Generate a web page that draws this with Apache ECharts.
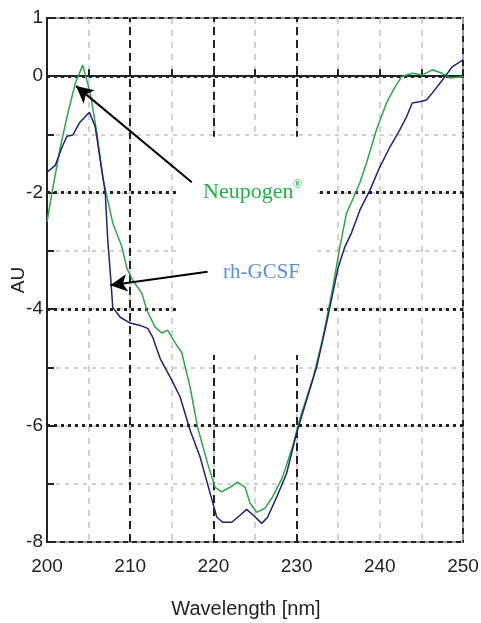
<!DOCTYPE html>
<html>
<head>
<meta charset="utf-8">
<script src="https://cdn.jsdelivr.net/npm/echarts@6/dist/echarts.min.js"></script>
<style>
  html, body { margin: 0; padding: 0; background: #fff; }
  #chart { width: 481px; height: 623px; }
</style>
</head>
<body>
<div id="chart"></div>
<script>
// Neupogen (green) trace
const neupogenX = [200, 200.6, 201.6, 202.4, 203.4, 204.3, 205.2, 206.0, 206.7, 207.1, 207.9, 209.0, 209.6, 210.3,
  211.4, 212.0, 213.0, 213.8, 214.5, 215.4, 216.2, 217.2, 218.1, 219.3, 220.2, 221.0, 222.0, 222.9, 223.8, 224.4,
  225.2, 226.2, 227.1, 228.3, 229.5, 230.4, 232.0, 233.1, 234.3, 235.2, 236.0, 236.7, 237.6, 238.4, 239.6, 240.8,
  241.8, 242.6, 243.9, 245.1, 246.3, 247.5, 248.4, 250];
const neupogenY = [-2.5, -2.0, -1.22, -0.70, -0.12, 0.19, -0.29, -0.98, -1.73, -2.0, -2.52, -2.93, -3.3, -3.5,
  -3.73, -4.02, -4.31, -4.41, -4.36, -4.58, -4.75, -5.34, -6.03, -6.65, -7.06, -7.14, -7.06, -6.97, -7.06, -7.33,
  -7.49, -7.42, -7.23, -6.89, -6.37, -5.88, -5.17, -4.53, -3.67, -2.93, -2.35, -2.13, -1.83, -1.49, -0.92, -0.46,
  -0.19, -0.01, 0.05, 0.02, 0.11, 0.05, -0.03, -0.01];

// rh-GCSF (navy) trace
const rhX = [200, 201.0, 201.8, 202.4, 203.1, 203.9, 205.1, 205.8, 206.4, 207.0, 207.3, 207.7, 207.9, 208.8, 210.0,
  211.2, 212.1, 212.7, 213.6, 215.0, 216.0, 217.2, 218.4, 219.6, 220.4, 221.1, 222.2, 223.2, 224.0, 224.8, 225.8,
  226.5, 227.6, 228.8, 230.0, 231.2, 232.4, 233.6, 235.0, 235.8, 236.6, 237.6, 238.8, 240.0, 241.2, 242.4, 243.2,
  243.9, 244.8, 245.6, 246.3, 247.5, 248.7, 250];
const rhY = [-1.65, -1.53, -1.22, -1.03, -1.01, -0.80, -0.62, -0.87, -1.44, -2.0, -2.81, -3.55, -3.97, -4.14, -4.24,
  -4.28, -4.33, -4.48, -4.85, -5.22, -5.51, -6.08, -6.54, -7.16, -7.57, -7.66, -7.66, -7.54, -7.44, -7.54, -7.68,
  -7.58, -7.23, -6.82, -6.13, -5.56, -5.0, -4.24, -3.28, -2.93, -2.69, -2.3, -1.96, -1.56, -1.22, -0.92, -0.70,
  -0.46, -0.44, -0.41, -0.29, -0.07, 0.16, 0.28];

// bold gridlines and labelled ticks
const majorX = [210, 220, 230];
const majorY = [0, -2, -4, -6];
const yLabels = [1, 0, -2, -4, -6, -8];

// annotation arrows: [from, to] in data coords
const arrowNeupogen = [[217.4, -1.82], [203.5, -0.17]];
const arrowRh = [[219.3, -3.36], [207.6, -3.59]];
// blank patch behind the labels (gridlines hidden there)
const labelPatch = [[215.5, -1.04], [232.5, -4.79]];

const pairs = (xs, ys) => xs.map((x, i) => [x, ys[i]]);

const chart = echarts.init(document.getElementById("chart"));
const labelFont = "'Liberation Sans', Arial, sans-serif";
const serif = "'Liberation Serif', 'Times New Roman', serif";

const option = {
  animation: false,
  grid: {
    left: 47,
    right: 18,
    top: 18,
    bottom: 81,
    containLabel: false,
    outerBoundsMode: "none",
    show: true,
    borderColor: "#222",
    borderWidth: 2,
  },
  xAxis: {
    type: "value",
    min: 200,
    max: 250,
    interval: 5,
    name: "Wavelength [nm]",
    nameLocation: "middle",
    nameGap: 57,
    nameTextStyle: { fontFamily: labelFont, fontSize: 20, color: "#222", padding: [0, 18, 0, 0] },
    axisLine: { lineStyle: { color: "#222", width: 2 } },
    axisTick: { inside: true, length: 7, lineStyle: { color: "#222", width: 2 } },
    axisLabel: {
      margin: 15,
      fontFamily: labelFont,
      fontSize: 19,
      color: "#222",
      formatter: (v) => (v % 10 === 0 ? String(v) : ""),
    },
    splitLine: { show: true, lineStyle: { color: "#c4c4c4", type: [6, 6], width: 1.5 } },
  },
  yAxis: {
    type: "value",
    min: -8,
    max: 1,
    interval: 1,
    name: "AU",
    nameLocation: "middle",
    nameGap: 19,
    nameMoveOverlap: false,
    nameTextStyle: { fontFamily: labelFont, fontSize: 19, color: "#222" },
    axisLine: { show: true, lineStyle: { color: "#222", width: 2 } },
    axisTick: { inside: true, length: 7, lineStyle: { color: "#222", width: 2 } },
    axisLabel: {
      margin: 4,
      fontFamily: labelFont,
      fontSize: 19,
      color: "#222",
      formatter: (v) => (yLabels.includes(v) ? String(v) : ""),
    },
    splitLine: { show: true, lineStyle: { color: "#c4c4c4", type: [4, 5], width: 1.5 } },
  },
  series: [
    {
      // bold gridlines
      type: "line",
      z: 1,
      data: [],
      silent: true,
      markLine: {
        z: 2,
        silent: true,
        symbol: "none",
        label: { show: false },
        data: [
          ...majorX.map((v) => ({ xAxis: v, lineStyle: { color: "#222", type: [8, 5], width: 2 } })),
          ...majorY.map((v) => ({ yAxis: v, lineStyle: { color: "#222", type: [3, 4], width: 3 } })),
        ],
      },
    },
    {
      name: "Neupogen",
      type: "line",
      z: 5,
      showSymbol: false,
      lineStyle: { color: "#2ea44f", width: 1.5 },
      itemStyle: { color: "#2ea44f" },
      data: pairs(neupogenX, neupogenY),
      markArea: {
        z: 4,
        silent: true,
        label: { show: false },
        itemStyle: { color: "#ffffff", opacity: 1 },
        data: [[{ coord: labelPatch[0] }, { coord: labelPatch[1] }]],
      },
    },
    {
      name: "rh-GCSF",
      type: "line",
      z: 6,
      showSymbol: false,
      lineStyle: { color: "#22226e", width: 1.5 },
      itemStyle: { color: "#22226e" },
      data: pairs(rhX, rhY),
      markLine: {
        z: 8,
        silent: true,
        symbol: ["none", "arrow"],
        symbolSize: [13, 17],
        label: { show: false },
        lineStyle: { color: "#000", type: "solid", width: 2 },
        data: [
          [{ coord: arrowNeupogen[0] }, { coord: arrowNeupogen[1] }],
          [{ coord: arrowRh[0] }, { coord: arrowRh[1] }],
        ],
      },
    },
  ],
  graphic: [
    {
      type: "text",
      z: 10,
      left: 203,
      top: 181,
      style: { text: "Neupogen", font: "22px " + serif, fill: "#22b04b" },
    },
    {
      type: "text",
      z: 10,
      left: 293,
      top: 179,
      style: { text: "®", font: "12px " + serif, fill: "#22b04b" },
    },
    {
      type: "text",
      z: 10,
      left: 223,
      top: 262,
      style: { text: "rh-GCSF", font: "21px " + serif, fill: "#5a8fd8" },
    },
  ],
};

chart.setOption(option);
</script>
</body>
</html>
